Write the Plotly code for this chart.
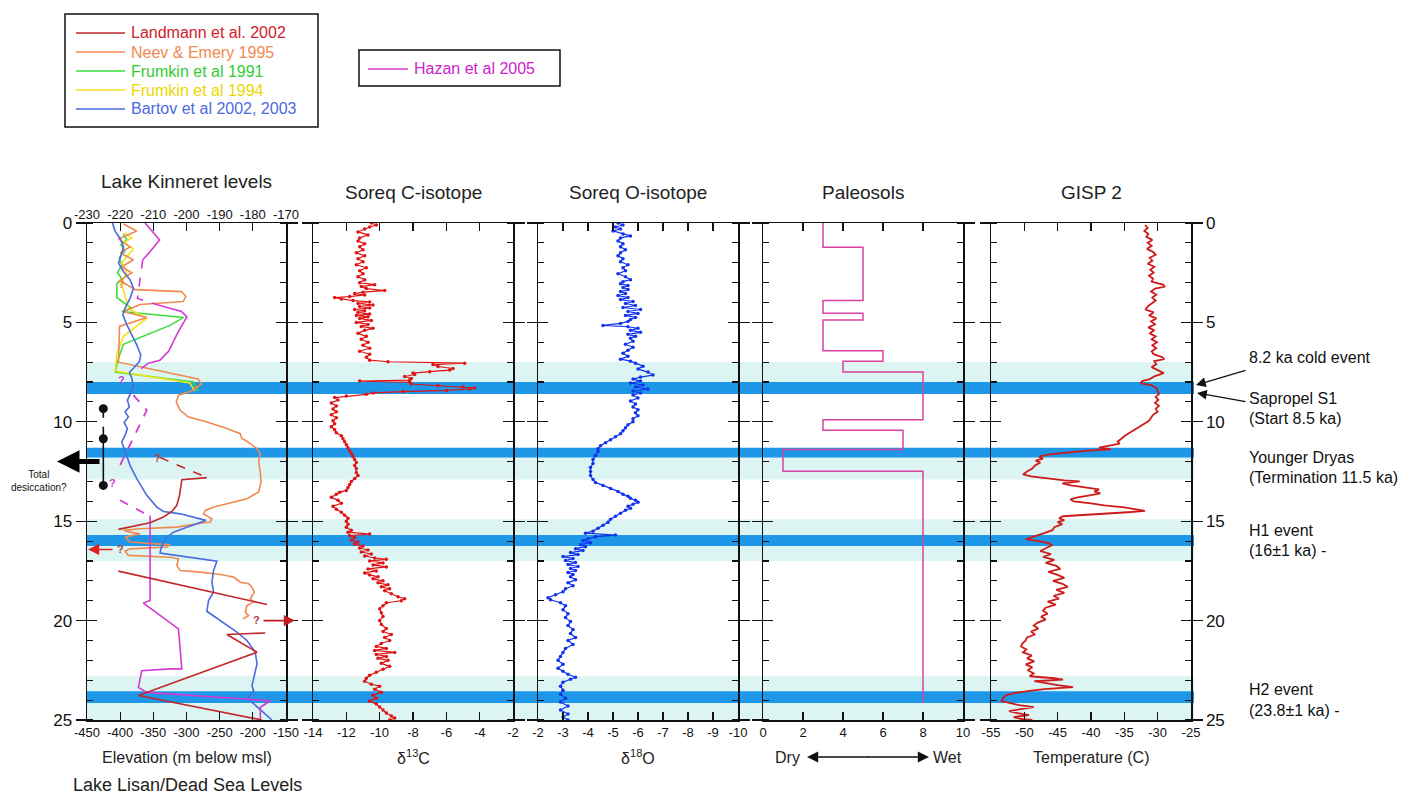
import plotly.graph_objects as go

W, H = 1409, 794
FONT = "Liberation Sans, Arial, Helvetica, sans-serif"

# ---------------- event bands (ka) ----------------
light_bands = [(7.0, 8.6), (11.3, 12.9), (14.9, 17.0), (22.8, 25.0)]
blue_bands = [(8.0, 8.6), (11.3, 11.8), (15.7, 16.25), (23.55, 24.15)]

# ---------------- Lake Kinneret (top axis, m) ----------------
neev_k_lvl = [-219.0, -215.0, -220.5, -217.0, -220.0, -216.0, -219.5, -216.5, -220.0, -215.5, -201.5,
              -200.2, -201.0, -214.0, -219.0, -212.0, -220.2, -220.5, -196.5, -195.5, -198.5]
neev_k_age = [0.05, 0.4, 0.8, 1.2, 1.5, 1.85, 2.2, 2.5, 2.9, 3.35, 3.45,
              3.7, 3.95, 4.1, 4.45, 4.75, 5.2, 7.0, 7.85, 8.1, 8.45]
fr91_lvl = [-219.0, -218.0, -219.8, -218.5, -220.3, -219.5, -220.8, -219.5, -221.0, -221.0, -216.5,
            -219.5, -200.8, -205.0, -219.0, -220.5, -221.5, -198.0, -196.5]
fr91_age = [0.55, 0.85, 1.1, 1.4, 1.75, 2.1, 2.5, 2.8, 3.05, 3.75, 4.3,
            4.45, 4.75, 5.15, 6.1, 6.8, 7.5, 8.0, 8.45]
fr94_lvl = [-218.5, -216.5, -219.0, -216.0, -217.5, -219.5, -218.0, -219.8, -219.0, -217.5, -212.0,
            -219.0, -221.0, -221.5, -199.0, -197.5]
fr94_age = [0.5, 0.75, 1.0, 1.3, 1.6, 2.0, 2.5, 3.0, 3.4, 4.3, 4.8,
            5.7, 6.6, 7.45, 8.05, 8.45]
bart_k_lvl = [-222.3, -221.5, -220.0, -219.0, -219.5, -220.5, -219.0, -217.0, -216.0, -217.0, -218.5,
              -219.2, -218.0, -216.5, -215.0, -213.8, -214.2, -216.0, -217.2, -216.5, -216.0]
bart_k_age = [0.0, 0.42, 0.79, 1.18, 1.51, 2.02, 2.44, 2.86, 3.28, 3.78, 4.28,
              4.62, 5.12, 5.63, 6.13, 6.63, 6.97, 7.31, 7.51, 7.81, 8.23]
haz_k_lvl = [-212.5, -208.1, -211.0, -213.2]
haz_k_age = [0.0, 0.85, 1.45, 1.85]
haz_k_dash_lvl = [-213.2, -214.8, -208.0]
haz_k_dash_age = [1.85, 3.8, 4.15]
haz_k2_lvl = [-208.0, -201.5, -199.9, -202.9, -205.4, -208.0, -211.5]
haz_k2_age = [4.15, 4.45, 4.72, 5.6, 6.45, 6.9, 7.05]
haz_k2_dash_lvl = [-211.5, -215.5]
haz_k2_dash_age = [7.05, 7.55]

# ---------------- Lake Lisan / Dead Sea (bottom axis, m) ----------------
neev_l_lvl = [-292.5, -305, -312, -315.6, -309.5, -297, -269, -239, -219, -216.4, -211.4, -203.8, -193.7,
              -188.7, -191.2, -188.7, -187.7, -191.2, -208.8, -239, -259, -271.8, -274.3, -261.7, -264.2,
              -284.4, -314.6, -370, -395.1, -385, -370, -392.6, -385, -324.6, -329.7, -385, -392.6, -387.6,
              -324.7, -312.1, -314.6, -309.6, -279.3, -249.1, -229, -218.9, -206.3, -201.3, -197.8, -203.8,
              -198.8, -208.9, -211.4, -206.3, -214.9]
neev_l_age = [8.45, 8.58, 8.66, 9.0, 9.42, 9.76, 10.01, 10.34, 10.6, 10.85, 10.93, 11.1, 11.35,
              11.6, 12.02, 12.53, 13.03, 13.53, 13.87, 14.12, 14.29, 14.46, 14.63, 14.88, 15.04,
              15.13, 15.3, 15.38, 15.46, 15.55, 15.63, 15.8, 16.05, 16.19, 16.3, 16.39, 16.5, 16.72,
              16.81, 16.89, 17.23, 17.48, 17.56, 17.68, 17.81, 18.07, 18.15, 18.32, 18.57, 18.9,
              19.07, 19.24, 19.58, 19.75, 19.91]
bart_l_lvl = [-380, -385.1, -389.1, -386.1, -392.6, -387.6, -394.1, -389.1, -392.6, -397.6, -392.6, -385.1,
              -375, -359.9, -344.8, -334.7, -309.5, -270.8, -299.5, -319.6, -332.2, -338.7, -339.8, -254.2,
              -259.2, -261.7, -259.2, -266.8, -269.3, -239.1, -224.1, -208.9, -196.3, -193.7, -198.8, -201.3,
              -198.8, -206.3, -201.3, -171.1]
bart_l_age = [8.23, 8.58, 8.92, 9.25, 9.5, 9.76, 10.04, 10.34, 10.68, 11.01, 11.52, 12.19,
              12.86, 13.7, 14.29, 14.51, 14.63, 14.96, 15.3, 15.55, 15.88, 16.39, 16.6, 17.01,
              17.48, 18.07, 18.57, 18.99, 19.53, 20.25, 20.58, 21.0, 21.59, 22.18, 22.85, 23.27,
              23.52, 23.86, 24.11, 25.0]
land_lvl = [-269.3, -307, -310.5, -314.6, -322.1, -334.7, -354.9, -402.7, None,
            -402.7, -178.6, None,
            -181.2, -239.1, -193.7, -372.5, -186.2]
land_age = [12.81, 12.91, 13.7, 14.2, 14.51, 14.79, 15.08, 15.41, None,
            17.51, 19.19, None,
            20.62, 20.7, 21.59, 23.77, 25.0]
land_dash_lvl = [-339.7, -269.3]
land_dash_age = [11.8, 12.81]
haz_l_dash_lvl = [-380, -359.9, -400.2, None, -400.2, -357.4]
haz_l_dash_age = [8.66, 9.42, 12.19, None, 13.95, 14.71]
haz_l_lvl = [-354.9, -354.9, -365, -312.1, -307.1, -324.7, -367.5, -372.5, -359.9, -173.6, -188.7, -188.7]
haz_l_age = [14.71, 18.99, 19.12, 20.42, 22.43, 22.43, 22.52, 23.36, 23.61, 24.03, 24.36, 25.0]
desic_lvl = [-425.4, -425.4, -425.4]
desic_age = [9.34, 10.85, 13.2]

# ---------------- Soreq C isotope ----------------
c13 = [(0.00, -10.5), (0.10, -10.2), (0.20, -10.6), (0.30, -10.9), (0.45, -11.3), (0.60, -10.7), (0.75, -11.2),
       (0.90, -11.3), (1.05, -10.9), (1.20, -11.2), (1.35, -11.0), (1.50, -11.4), (1.65, -10.9), (1.80, -11.3),
       (1.95, -11.0), (2.10, -11.4), (2.25, -10.8), (2.40, -11.2), (2.55, -11.0), (2.70, -11.3), (2.85, -10.9),
       (3.00, -11.2), (3.10, -10.3), (3.20, -11.1), (3.30, -10.8), (3.40, -9.7), (3.48, -11.0), (3.55, -11.5),
       (3.62, -10.9), (3.70, -11.8), (3.75, -12.7), (3.82, -12.3), (3.90, -11.6), (3.97, -10.6), (4.05, -11.3),
       (4.12, -10.4), (4.20, -11.2), (4.28, -10.6), (4.35, -11.5), (4.42, -10.9), (4.50, -11.3), (4.58, -10.6),
       (4.65, -11.4), (4.72, -10.7), (4.80, -11.2), (4.90, -10.5), (5.00, -11.4), (5.10, -10.7), (5.20, -11.1),
       (5.30, -10.4), (5.40, -10.9), (5.55, -11.3), (5.70, -10.8), (5.85, -11.1), (6.00, -10.7), (6.15, -11.0),
       (6.30, -10.6), (6.45, -11.2), (6.60, -10.6), (6.75, -10.8), (6.90, -10.6), (6.98, -9.5), (7.05, -4.9),
       (7.12, -6.8), (7.22, -6.5), (7.32, -5.6), (7.40, -5.8), (7.48, -7.0), (7.55, -8.0), (7.62, -7.9),
       (7.72, -8.5), (7.82, -8.1), (7.90, -8.2), (7.95, -11.2), (8.00, -8.2), (8.10, -8.1), (8.18, -6.5),
       (8.25, -5.0), (8.30, -4.3), (8.35, -4.6), (8.42, -6.0), (8.48, -8.6), (8.55, -10.4), (8.62, -10.8),
       (8.70, -12.0), (8.78, -12.7), (8.90, -12.5), (9.05, -12.9), (9.20, -12.6), (9.35, -12.8), (9.50, -12.6),
       (9.65, -12.9), (9.80, -12.6), (9.95, -12.8), (10.10, -12.7), (10.25, -12.9), (10.40, -12.7), (10.55, -12.6),
       (10.70, -12.3), (10.85, -12.2), (11.00, -12.1), (11.15, -12.0), (11.30, -11.9), (11.45, -11.8), (11.60, -11.7),
       (11.75, -11.6), (11.90, -11.5), (12.05, -11.4), (12.20, -11.5), (12.35, -11.4), (12.55, -11.4), (12.70, -11.3),
       (12.85, -11.5), (13.00, -11.7), (13.15, -11.8), (13.30, -11.9), (13.45, -12.0), (13.55, -12.4), (13.65, -12.6),
       (13.80, -12.9), (13.95, -12.5), (14.10, -12.3), (14.25, -12.8), (14.40, -12.6), (14.55, -12.3), (14.70, -12.1),
       (14.85, -11.9), (15.00, -12.0), (15.15, -11.9), (15.30, -12.0), (15.45, -11.7), (15.55, -11.9), (15.65, -10.6),
       (15.72, -11.8), (15.82, -11.5), (15.95, -11.7), (16.05, -11.3), (16.15, -11.5), (16.25, -11.0), (16.35, -11.2),
       (16.45, -10.7), (16.55, -11.1), (16.65, -10.5), (16.75, -10.9), (16.85, -10.3), (16.92, -9.6), (17.00, -10.6),
       (17.10, -9.8), (17.20, -10.4), (17.30, -9.6), (17.40, -10.7), (17.50, -10.2), (17.60, -10.9), (17.70, -10.6),
       (17.80, -10.1), (17.90, -10.4), (18.00, -9.8), (18.10, -10.1), (18.20, -9.5), (18.30, -9.9), (18.40, -9.4),
       (18.50, -9.7), (18.65, -9.3), (18.80, -8.9), (18.90, -8.5), (19.00, -8.7), (19.10, -9.6), (19.25, -9.8),
       (19.40, -10.0), (19.60, -9.9), (19.80, -9.8), (20.00, -10.0), (20.20, -9.9), (20.40, -9.6), (20.55, -9.8),
       (20.70, -9.3), (20.85, -9.7), (21.00, -9.4), (21.15, -9.9), (21.30, -10.2), (21.40, -9.6), (21.50, -10.3),
       (21.60, -9.1), (21.70, -10.2), (21.80, -9.6), (21.90, -10.1), (22.00, -9.5), (22.15, -9.9), (22.30, -9.4),
       (22.45, -9.8), (22.60, -10.2), (22.75, -10.6), (22.90, -10.8), (23.05, -10.9), (23.20, -10.5), (23.30, -10.0),
       (23.45, -10.3), (23.60, -9.9), (23.75, -10.4), (23.90, -10.2), (24.05, -10.6), (24.20, -10.2), (24.35, -10.0),
       (24.50, -9.8), (24.65, -9.6), (24.80, -9.3), (24.90, -9.1), (25.00, -9.4)]
c13_age = [a for a, _ in c13]
c13_val = [v for _, v in c13]

# ---------------- Soreq O isotope ----------------
o18 = [(0.00, -5.2), (0.10, -5.4), (0.20, -5.1), (0.30, -5.3), (0.40, -5.0), (0.55, -5.4), (0.65, -5.7),
       (0.75, -5.3), (0.90, -5.2), (1.05, -5.4), (1.20, -5.3), (1.35, -5.5), (1.50, -5.3), (1.65, -5.2),
       (1.80, -5.4), (1.95, -5.3), (2.10, -5.6), (2.25, -5.4), (2.40, -5.5), (2.55, -5.2), (2.70, -5.5),
       (2.85, -5.7), (2.95, -5.4), (3.05, -5.3), (3.15, -5.6), (3.25, -5.4), (3.35, -5.6), (3.45, -5.3),
       (3.55, -5.5), (3.65, -5.2), (3.75, -5.6), (3.85, -5.3), (3.95, -5.8), (4.05, -5.5), (4.15, -5.9),
       (4.25, -5.4), (4.35, -6.1), (4.45, -5.6), (4.55, -6.0), (4.65, -5.5), (4.75, -5.9), (4.85, -5.7),
       (4.95, -5.6), (5.05, -5.3), (5.15, -4.6), (5.22, -5.6), (5.30, -6.0), (5.40, -5.7), (5.50, -6.1),
       (5.60, -5.6), (5.70, -5.9), (5.80, -5.7), (5.95, -5.8), (6.10, -5.5), (6.25, -5.8), (6.40, -5.6),
       (6.55, -5.4), (6.70, -5.6), (6.85, -5.3), (6.95, -5.7), (7.05, -5.9), (7.20, -6.2), (7.35, -6.0),
       (7.50, -6.4), (7.65, -6.6), (7.75, -6.1), (7.85, -5.8), (7.95, -6.1), (8.05, -5.7), (8.15, -6.2),
       (8.25, -5.9), (8.35, -6.4), (8.45, -5.8), (8.55, -6.1), (8.65, -5.8), (8.80, -6.0), (8.95, -5.7),
       (9.10, -5.9), (9.25, -5.8), (9.40, -6.0), (9.55, -5.9), (9.70, -6.0), (9.85, -5.8), (10.00, -5.8),
       (10.15, -5.6), (10.30, -5.5), (10.45, -5.4), (10.60, -5.3), (10.75, -5.1), (10.90, -4.9), (11.05, -4.7),
       (11.20, -4.5), (11.35, -4.4), (11.50, -4.4), (11.70, -4.3), (11.90, -4.2), (12.10, -4.2), (12.30, -4.1),
       (12.50, -4.1), (12.70, -4.1), (12.90, -4.2), (13.05, -4.3), (13.20, -4.6), (13.35, -4.9), (13.50, -5.2),
       (13.65, -5.4), (13.75, -5.6), (13.85, -5.7), (13.95, -5.9), (14.05, -6.0), (14.15, -5.8), (14.25, -5.6),
       (14.35, -5.7), (14.45, -5.5), (14.60, -5.3), (14.75, -5.1), (14.90, -4.9), (15.05, -4.8), (15.20, -4.6),
       (15.35, -4.4), (15.50, -4.2), (15.60, -3.9), (15.70, -5.1), (15.78, -4.3), (15.88, -4.0), (15.98, -3.8),
       (16.08, -4.1), (16.18, -3.7), (16.28, -3.9), (16.38, -3.5), (16.48, -3.8), (16.58, -3.3), (16.68, -3.6),
       (16.78, -3.0), (16.88, -3.4), (16.98, -3.1), (17.08, -3.5), (17.18, -3.2), (17.28, -3.6), (17.38, -3.3),
       (17.48, -3.5), (17.58, -3.2), (17.68, -3.4), (17.80, -3.3), (17.95, -3.5), (18.10, -3.2), (18.25, -3.4),
       (18.40, -3.1), (18.55, -3.0), (18.70, -2.7), (18.85, -2.4), (18.95, -2.5), (19.10, -2.9), (19.25, -3.1),
       (19.45, -3.0), (19.65, -3.2), (19.85, -3.1), (20.05, -3.3), (20.25, -3.2), (20.45, -3.4), (20.65, -3.3),
       (20.85, -3.5), (21.00, -3.2), (21.20, -3.4), (21.40, -3.1), (21.60, -3.0), (21.80, -2.9), (22.00, -2.8),
       (22.20, -3.0), (22.40, -2.8), (22.55, -3.0), (22.70, -3.2), (22.85, -3.5), (22.95, -3.3), (23.10, -3.0),
       (23.30, -2.9), (23.50, -3.0), (23.70, -2.9), (23.90, -3.1), (24.10, -2.9), (24.30, -3.2), (24.50, -2.9),
       (24.70, -3.2), (24.85, -3.0), (25.00, -3.2)]
o18_age = [a for a, _ in o18]
o18_val = [v for _, v in o18]

# ---------------- Paleosols (step index) ----------------
paleo_top = [0.0, 1.22, 3.9, 4.54, 4.88, 6.43, 6.95, 7.49, 9.9, 10.42, 11.39, 12.49, 24.15]
paleo_val = [3, 5, 3, 5, 3, 6, 4, 8, 3, 7, 1, 8, 8]

# ---------------- GISP2 temperature ----------------
gisp = [(0.10, -31.9), (0.25, -31.5), (0.40, -32.0), (0.55, -31.4), (0.70, -31.7), (0.85, -30.8), (1.00, -31.5),
        (1.15, -30.9), (1.30, -31.6), (1.45, -30.7), (1.60, -30.3), (1.75, -31.2), (1.90, -30.8), (2.05, -31.5),
        (2.20, -30.5), (2.35, -31.1), (2.50, -30.6), (2.65, -31.3), (2.80, -30.7), (2.95, -30.9), (3.10, -29.2),
        (3.20, -28.9), (3.30, -30.4), (3.45, -31.0), (3.60, -30.2), (3.75, -30.8), (3.90, -30.3), (4.05, -31.0),
        (4.20, -31.5), (4.35, -31.8), (4.50, -30.6), (4.65, -31.3), (4.80, -30.2), (4.95, -31.0), (5.10, -30.4),
        (5.25, -31.4), (5.40, -30.5), (5.55, -31.2), (5.70, -30.3), (5.85, -30.9), (6.00, -30.1), (6.15, -30.8),
        (6.30, -30.2), (6.45, -30.9), (6.60, -30.6), (6.75, -29.3), (6.85, -29.0), (6.95, -30.5), (7.10, -30.2),
        (7.25, -30.9), (7.40, -30.0), (7.55, -29.1), (7.70, -30.4), (7.85, -31.2), (7.95, -32.3), (8.05, -32.6),
        (8.15, -31.0), (8.30, -30.2), (8.45, -30.0), (8.60, -29.8), (8.75, -30.3), (8.90, -29.9), (9.05, -30.4),
        (9.20, -29.8), (9.35, -30.3), (9.50, -30.0), (9.65, -30.7), (9.80, -31.0), (9.95, -31.3), (10.10, -32.0),
        (10.25, -32.8), (10.40, -33.6), (10.55, -34.2), (10.70, -34.9), (10.85, -35.5), (11.00, -36.0), (11.10, -35.7),
        (11.20, -37.5), (11.30, -38.8), (11.38, -37.0), (11.45, -40.5), (11.55, -43.5), (11.65, -46.5), (11.75, -47.8),
        (11.85, -47.2), (11.95, -48.3), (12.05, -47.6), (12.20, -48.4), (12.35, -48.8), (12.50, -49.6), (12.65, -50.2),
        (12.75, -49.0), (12.85, -46.5), (12.95, -44.0), (13.00, -41.7), (13.10, -44.3), (13.20, -43.0), (13.30, -41.2),
        (13.40, -38.8), (13.50, -39.5), (13.60, -38.6), (13.70, -40.2), (13.80, -42.0), (13.90, -43.1), (14.00, -42.6),
        (14.10, -40.0), (14.20, -38.0), (14.30, -35.0), (14.40, -33.0), (14.48, -31.9), (14.55, -34.5), (14.65, -40.0),
        (14.75, -44.2), (14.85, -44.8), (14.95, -44.0), (15.05, -45.0), (15.15, -44.3), (15.30, -45.5), (15.45, -45.8),
        (15.60, -47.0), (15.75, -48.5), (15.90, -49.8), (16.00, -47.8), (16.10, -46.4), (16.20, -45.8), (16.35, -46.8),
        (16.50, -47.6), (16.65, -46.0), (16.80, -47.2), (16.95, -45.5), (17.10, -46.8), (17.25, -45.2), (17.40, -44.6),
        (17.55, -46.4), (17.70, -45.0), (17.85, -44.0), (18.00, -45.7), (18.15, -44.3), (18.30, -43.5), (18.45, -45.2),
        (18.60, -44.0), (18.75, -45.6), (18.90, -44.8), (19.05, -46.5), (19.20, -45.3), (19.35, -46.8), (19.50, -47.2),
        (19.65, -46.5), (19.80, -47.5), (19.95, -46.8), (20.10, -48.0), (20.25, -48.6), (20.40, -47.9), (20.55, -49.0),
        (20.70, -48.4), (20.85, -49.6), (21.00, -49.8), (21.15, -50.3), (21.30, -50.5), (21.45, -49.7), (21.60, -50.2),
        (21.75, -48.9), (21.90, -49.6), (22.05, -48.5), (22.20, -49.8), (22.35, -48.8), (22.50, -49.5), (22.65, -48.6),
        (22.80, -49.2), (22.90, -45.5), (22.97, -44.2), (23.05, -48.5), (23.15, -47.0), (23.25, -45.0), (23.35, -42.7),
        (23.45, -47.0), (23.55, -49.5), (23.65, -51.5), (23.75, -52.7), (23.90, -53.2), (24.05, -53.4), (24.15, -52.0),
        (24.25, -50.8), (24.35, -48.6), (24.45, -50.5), (24.55, -52.3), (24.65, -51.0), (24.75, -49.3), (24.85, -51.6),
        (24.95, -50.5), (25.00, -48.8)]
gisp_age = [a for a, _ in gisp]
gisp_val = [v for _, v in gisp]

# ---------------- text ----------------
panel_titles = ["Lake Kinneret levels", "Soreq C-isotope", "Soreq O-isotope", "Paleosols", "GISP 2"]
axis_titles = ["Elevation (m below msl)", "δ<sup>13</sup>C", "δ<sup>18</sup>O", "", "Temperature (C)"]
legend_names = ["Landmann et al. 2002", "Neev & Emery 1995", "Frumkin et al 1991", "Frumkin et al 1994",
                "Bartov et al 2002, 2003"]
event_labels = ["8.2 ka cold event", "Sapropel S1", "(Start 8.5 ka)", "Younger Dryas", "(Termination 11.5 ka)",
                "H1 event", "(16±1 ka) -", "H2 event", "(23.8±1 ka) -"]

# ---------------- colours ----------------
C_LAND, C_NEEV, C_FR91, C_FR94, C_BART = "#c0282d", "#f08a4e", "#3cdc3c", "#f6e21a", "#4a6ae0"
C_HAZ, C_PALEO = "#d23ad2", "#d8419f"
legend_line_colors = [C_LAND, C_NEEV, C_FR91, C_FR94, C_BART]
legend_text_colors = ["#d0202a", "#f08a4e", "#33cc33", "#ecd800", "#4a6ae0"]
C_LIGHT, C_BLUE = "#dcf5f2", "#1e97e8"

# ---------------- geometry ----------------
def px(x):
    return x / W


def py(y):
    return 1 - y / H


panel_px = [(87, 286), (313, 513), (538, 738), (763, 963), (991, 1191)]
ydom = [py(720), py(223)]
x_ranges = [[-450, -150], [-14, -2], [-2, -10], [0, 10], [-55, -25]]
x_ticks = [list(range(-450, -149, 50)), list(range(-14, -1, 2)), list(range(-2, -11, -1)),
           list(range(0, 11, 2)), list(range(-55, -24, 5))]
top_ticks = list(range(-230, -169, 10))

fig = go.Figure()
tf = dict(family=FONT, size=13, color="#111")

layout = dict(width=W, height=H, margin=dict(l=0, r=0, t=0, b=0, autoexpand=False), autosize=False,
              paper_bgcolor="white", plot_bgcolor="rgba(0,0,0,0)", showlegend=False,
              font=dict(family=FONT, color="#111"))

for i in range(5):
    sfx = "" if i == 0 else str(i + 1)
    xc, yc = "x" + sfx, "y" + sfx
    layout["xaxis" + sfx] = dict(domain=[px(panel_px[i][0]), px(panel_px[i][1])], range=x_ranges[i],
                                 anchor=yc, tickmode="array", tickvals=x_ticks[i],
                                 ticktext=[str(v) for v in x_ticks[i]], ticks="inside",
                                 ticklen=8, tickwidth=1.3, tickcolor="#111", showline=True,
                                 linecolor="#111", linewidth=1.5, mirror=True if i == 0 else "ticks",
                                 showgrid=False, zeroline=False, tickfont=tf, fixedrange=True,
                                 automargin=False)
    layout["yaxis" + sfx] = dict(domain=ydom, range=[25, 0], anchor=xc, tickmode="linear", tick0=0, dtick=5,
                                 ticks="outside", ticklen=10, tickwidth=1.3, tickcolor="#111",
                                 showline=True, linecolor="#111", linewidth=1.5, mirror="ticks",
                                 minor=dict(ticks="inside", ticklen=6, tickwidth=1.1, tickcolor="#111",
                                            tickmode="linear", tick0=0, dtick=1),
                                 showticklabels=(i in (0, 4)), side="right" if i == 4 else "left",
                                 showgrid=False, zeroline=False, automargin=False,
                                 tickfont=dict(family=FONT, size=17, color="#111"), fixedrange=True)
    # overlay axis to draw the inner half of the major tick crosses
    layout["yaxis" + str(6 + i)] = dict(overlaying=yc, range=[25, 0], anchor=xc, tickmode="linear", tick0=0,
                                        dtick=5, ticks="inside", ticklen=10, tickwidth=1.3, tickcolor="#111",
                                        mirror="ticks", showline=False, showticklabels=False, showgrid=False,
                                        zeroline=False, side="right" if i == 4 else "left", fixedrange=True,
                                        automargin=False)
    fig.add_trace(go.Scatter(x=[None], y=[None], xaxis=xc, yaxis="y" + str(6 + i), hoverinfo="skip"))

layout["xaxis6"] = dict(overlaying="x", side="top", anchor="y", range=[-230, -170], tickmode="array",
                        tickvals=top_ticks, ticktext=[str(v) for v in top_ticks], ticks="inside", ticklen=8,
                        tickwidth=1.3, tickcolor="#111", showline=False, showgrid=False, zeroline=False,
                        tickfont=tf, fixedrange=True, automargin=False)


def line(x, y, xa, ya, color, width=1.6, dash=None):
    fig.add_trace(go.Scatter(x=x, y=y, xaxis=xa, yaxis=ya, mode="lines", hoverinfo="skip",
                             line=dict(color=color, width=width, dash=dash)))


# Panel 1 - Kinneret (top axis)
line(fr91_lvl, fr91_age, "x6", "y", C_FR91)
line(fr94_lvl, fr94_age, "x6", "y", C_FR94)
line(neev_k_lvl, neev_k_age, "x6", "y", C_NEEV)
line(bart_k_lvl, bart_k_age, "x6", "y", C_BART)
line(haz_k_lvl, haz_k_age, "x6", "y", C_HAZ)
line(haz_k_dash_lvl, haz_k_dash_age, "x6", "y", C_HAZ, dash="dash")
line(haz_k2_lvl, haz_k2_age, "x6", "y", C_HAZ)
line(haz_k2_dash_lvl, haz_k2_dash_age, "x6", "y", C_HAZ, dash="dash")
# Panel 1 - Lisan (bottom axis)
line(neev_l_lvl, neev_l_age, "x", "y", C_NEEV)
line(bart_l_lvl, bart_l_age, "x", "y", C_BART)
line(haz_l_lvl, haz_l_age, "x", "y", C_HAZ)
line(haz_l_dash_lvl, haz_l_dash_age, "x", "y", C_HAZ, width=1.8, dash="dash")
line(land_lvl, land_age, "x", "y", C_LAND)
line(land_dash_lvl, land_dash_age, "x", "y", C_LAND, dash="dash")
line(desic_lvl[:2], desic_age[:2], "x", "y", "#111", width=1.6, dash="dash")
line(desic_lvl[1:], desic_age[1:], "x", "y", "#111", width=1.6)
fig.add_trace(go.Scatter(x=desic_lvl, y=desic_age, xaxis="x", yaxis="y", mode="markers", hoverinfo="skip",
                         marker=dict(color="#111", size=9)))

# Panel 2 - C isotope
fig.add_trace(go.Scatter(x=c13_val, y=c13_age, xaxis="x2", yaxis="y2", mode="lines+markers", hoverinfo="skip",
                         line=dict(color="#e01414", width=1.2), marker=dict(color="#e01414", size=3.5)))
# Panel 3 - O isotope
fig.add_trace(go.Scatter(x=o18_val, y=o18_age, xaxis="x3", yaxis="y3", mode="lines+markers", hoverinfo="skip",
                         line=dict(color="#1233ee", width=1.2), marker=dict(color="#1233ee", size=3.5)))
# Panel 4 - Paleosols
fig.add_trace(go.Scatter(x=paleo_val, y=paleo_top, xaxis="x4", yaxis="y4", mode="lines", hoverinfo="skip",
                         line=dict(color=C_PALEO, width=1.5, shape="vh")))
# Panel 5 - GISP2
fig.add_trace(go.Scatter(x=gisp_val, y=gisp_age, xaxis="x5", yaxis="y5", mode="lines", hoverinfo="skip",
                         line=dict(color="#cf1a1a", width=1.8)))

# ---------------- shapes ----------------
shapes = []
for a, b in light_bands:
    shapes.append(dict(type="rect", xref="paper", yref="y", x0=px(87), x1=px(1194), y0=a, y1=b,
                       fillcolor=C_LIGHT, line=dict(width=0), layer="below"))
for a, b in blue_bands:
    shapes.append(dict(type="rect", xref="paper", yref="y", x0=px(87), x1=px(1194), y0=a, y1=b,
                       fillcolor=C_BLUE, line=dict(width=0), layer="below"))
# legend boxes
shapes.append(dict(type="rect", xref="paper", yref="paper", x0=px(65), x1=px(318), y0=py(127), y1=py(14),
                   line=dict(color="#111", width=1.5), fillcolor="rgba(0,0,0,0)"))
shapes.append(dict(type="rect", xref="paper", yref="paper", x0=px(359), x1=px(560), y0=py(86), y1=py(50),
                   line=dict(color="#111", width=1.5), fillcolor="rgba(0,0,0,0)"))

annotations = []
row_y = [33, 52, 71, 90, 109]
for name, lc, tc, ry in zip(legend_names, legend_line_colors, legend_text_colors, row_y):
    shapes.append(dict(type="line", xref="paper", yref="paper", x0=px(76), x1=px(125), y0=py(ry), y1=py(ry),
                       line=dict(color=lc, width=1.6)))
    annotations.append(dict(text=name, xref="paper", yref="paper", x=px(129), y=py(ry), xanchor="left",
                            yanchor="middle", showarrow=False, font=dict(size=16, color=tc, family=FONT)))
shapes.append(dict(type="line", xref="paper", yref="paper", x0=px(368), x1=px(408), y0=py(69), y1=py(69),
                   line=dict(color=C_HAZ, width=1.6)))
annotations.append(dict(text="Hazan et al 2005", xref="paper", yref="paper", x=px(412), y=py(69),
                        xanchor="left", yanchor="middle", showarrow=False,
                        font=dict(size=16, color="#cc22cc", family=FONT)))
fig.update_layout(shapes=shapes)

# panel titles & axis titles
title_y = [181, 193, 193, 193, 193]
for i in range(5):
    cx = (panel_px[i][0] + panel_px[i][1]) / 2
    annotations.append(dict(text=panel_titles[i], xref="paper", yref="paper", x=px(cx), y=py(title_y[i]),
                            xanchor="center", yanchor="middle", showarrow=False,
                            font=dict(size=19, color="#222", family=FONT)))
    if axis_titles[i]:
        annotations.append(dict(text=axis_titles[i], xref="paper", yref="paper", x=px(cx), y=py(757),
                                xanchor="center", yanchor="middle", showarrow=False,
                                font=dict(size=16, color="#222", family=FONT)))
annotations.append(dict(text="Lake Lisan/Dead Sea Levels", xref="paper", yref="paper", x=px(187), y=py(785),
                        xanchor="center", yanchor="middle", showarrow=False,
                        font=dict(size=18, color="#222", family=FONT)))
annotations.append(dict(text="Dry", xref="paper", yref="paper", x=px(788), y=py(757), xanchor="center",
                        yanchor="middle", showarrow=False, font=dict(size=16, color="#222", family=FONT)))
annotations.append(dict(text="Wet", xref="paper", yref="paper", x=px(947), y=py(757), xanchor="center",
                        yanchor="middle", showarrow=False, font=dict(size=16, color="#222", family=FONT)))
for hx, off in ((807, 63), (929, -63)):
    annotations.append(dict(text="", xref="paper", yref="paper", x=px(hx), y=py(757), ax=off, ay=0,
                            showarrow=True, arrowhead=2, arrowsize=1.6, arrowwidth=1.4, arrowcolor="#111"))

# right-hand event labels
event_y = [357, 398, 418, 457, 477, 530, 550, 689, 710]
for t, ey in zip(event_labels, event_y):
    annotations.append(dict(text=t, xref="paper", yref="paper", x=px(1247), y=py(ey), xanchor="left",
                            yanchor="middle", showarrow=False, font=dict(size=16, color="#111", family=FONT)))
annotations.append(dict(text="", xref="paper", yref="paper", x=px(1196), y=py(385), ax=51, ay=-15,
                        showarrow=True, arrowhead=2, arrowsize=1.5, arrowwidth=1.3, arrowcolor="#111"))
annotations.append(dict(text="", xref="paper", yref="paper", x=px(1197), y=py(393), ax=50, ay=9,
                        showarrow=True, arrowhead=2, arrowsize=1.5, arrowwidth=1.3, arrowcolor="#111"))

# panel-1 question marks and arrows
qmarks = [("x6", -219.7, 3.07, C_NEEV), ("x6", -219.7, 7.9, C_HAZ), ("x", -344.3, 11.8, "#b04040"),
          ("x", -411.2, 13.1, C_HAZ), ("x", -400.2, 16.4, "#b04040"), ("x", -195.2, 19.95, "#b04040")]
for xr, xv, yv, col in qmarks:
    annotations.append(dict(text="<b>?</b>", xref=xr, yref="y", x=xv, y=yv, showarrow=False,
                            xanchor="center", yanchor="middle",
                            font=dict(size=11, color=col, family=FONT)))
annotations.append(dict(text="", xref="paper", yref="y", x=px(57), y=12.0, ax=44, ay=0, showarrow=True,
                        arrowhead=2, arrowsize=0.9, arrowwidth=5, arrowcolor="#000"))
annotations.append(dict(text="Total<br>desiccation?", xref="paper", yref="y", x=px(39), y=13.0,
                        xanchor="center", yanchor="middle", align="center",
                        showarrow=False, font=dict(size=10, color="#111", family=FONT)))
annotations.append(dict(text="", xref="paper", yref="y", x=px(88), y=16.42, ax=26, ay=0, showarrow=True,
                        arrowhead=2, arrowsize=1.4, arrowwidth=1.6, arrowcolor="#e02020"))
annotations.append(dict(text="", xref="paper", yref="y", x=px(295), y=20.0, ax=-33, ay=0, showarrow=True,
                        arrowhead=2, arrowsize=1.4, arrowwidth=1.6, arrowcolor="#c02020"))

layout["annotations"] = annotations
fig.update_layout(**layout)
fig.write_html("out.html", config={"displayModeBar": False, "staticPlot": True},
               post_script="document.body.style.margin='0px';document.body.style.overflow='hidden';")
